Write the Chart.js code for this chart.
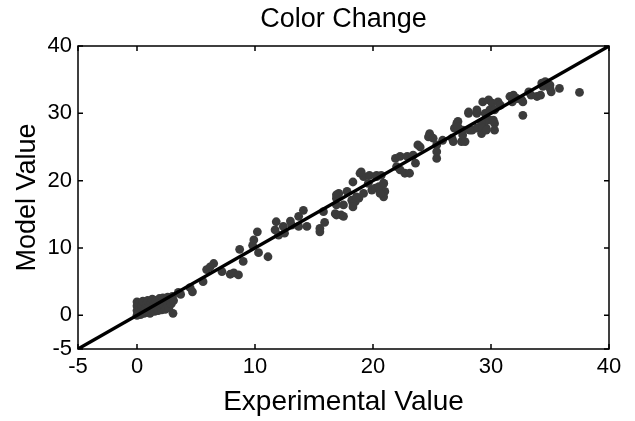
<!DOCTYPE html>
<html>
<head>
<meta charset="utf-8">
<script src="https://cdn.jsdelivr.net/npm/chart.js@4"></script>
<style>
  body { margin: 0; background: #fff; }
  #wrap { width: 635px; height: 421px; }
</style>
</head>
<body>
<div id="wrap"><canvas id="grafic"></canvas></div>
<script>
// valors llegits de la imatge (experimental, model)
const experimental = [
  0.0, 0.0, 0.0, 0.0, 0.1, 0.2, 0.2, 0.3, 0.4, 0.4, 0.5, 0.6, 0.7, 0.8, 0.9, 0.9, 1.0, 1.1, 1.2, 1.2,
  1.3, 1.4, 1.5, 1.6, 1.6, 1.7, 1.8, 1.9, 2.0, 2.1, 2.1, 2.2, 2.3, 2.4, 2.5, 2.6, 2.6, 2.7, 2.8, 2.9,
  3.0, 3.05, 3.1,
  3.5, 3.7, 4.5, 4.7, 5.6, 5.9, 6.2, 6.5, 7.2, 7.9, 8.2, 8.6, 9.0, 8.7, 9.8, 9.9, 10.2, 10.3, 11.1, 11.7,
  11.8, 12.0, 12.4, 12.5, 13.0, 13.1, 13.7, 13.7, 14.1, 14.4, 15.5, 15.5, 15.9, 15.8, 16.9, 17.3, 17.5, 16.9,
  17.1, 16.9, 17.5, 17.8, 18.2, 18.5, 18.8, 18.3, 18.9, 19.2, 19.6, 19.9, 20.2, 20.3, 20.7, 20.9, 21.0,
  19.0, 19.7, 20.3, 20.6, 20.9, 18.3, 18.6, 16.9, 16.8, 18.3, 19.2, 20.6, 20.5, 20.9,
  21.9, 22.3, 22.9, 23.4, 22.0, 22.3, 22.7, 23.1, 23.6, 23.8, 24.0, 24.8, 24.7, 25.1, 25.4, 25.4, 25.4, 25.9,
  26.7, 26.8, 27.1, 27.2, 26.9, 27.5, 27.8, 27.6, 28.1, 28.8, 28.1, 28.8, 28.4, 28.8, 29.2, 29.6, 29.9, 30.3,
  30.3, 29.5, 29.2, 29.3, 29.8, 30.1, 30.6, 30.8, 29.5, 29.9, 30.3, 30.2, 29.3, 29.6, 27.6, 28.2, 27.2,
  31.6, 31.9, 32.2, 31.8, 32.6, 32.7, 32.7, 33.2, 33.4, 33.9, 34.2, 34.3, 34.6, 34.4, 35.0, 35.0, 35.1, 35.8, 37.5
];
const model = [
  0.0, 0.7, 1.4, 2.0, 0.3, 1.1, 1.8, 0.1, 0.6, 1.5, 2.1, 0.3, 1.0, 1.7, 0.5, 2.2, 1.2, 0.3, 0.8, 1.9,
  2.4, 1.4, 0.6, 1.0, 2.2, 1.7, 0.7, 2.5, 1.2, 0.8, 1.9, 2.6, 1.4, 0.9, 2.1, 1.6, 2.7, 1.1, 2.3, 1.7,
  2.8, 0.3, 2.2,
  3.4, 3.1, 4.1, 3.5, 5.0, 6.8, 7.2, 7.7, 6.5, 6.1, 6.3, 6.0, 8.0, 9.8, 10.4, 11.2, 12.4, 9.3, 8.7, 12.7,
  13.9, 11.9, 13.2, 12.2, 14.0, 13.4, 14.7, 13.2, 15.6, 13.2, 12.4, 12.9, 13.8, 15.4, 14.9, 14.9, 14.7, 16.4,
  18.1, 17.4, 16.4, 18.4, 17.1, 16.9, 17.4, 19.8, 21.1, 20.6, 19.6, 18.6, 18.9, 20.8, 20.8, 19.6, 18.4,
  21.3, 20.8, 20.6, 18.9, 17.6, 16.6, 17.6, 17.9, 15.1, 16.1, 18.1, 18.1, 19.1, 19.6,
  23.3, 23.6, 23.6, 23.8, 22.1, 21.6, 21.1, 21.1, 22.6, 25.3, 25.0, 27.0, 26.5, 26.3, 23.3, 24.3, 25.3, 26.0,
  26.3, 25.8, 28.5, 28.8, 27.8, 25.8, 25.8, 26.8, 30.0, 30.0, 30.2, 30.5, 27.5, 27.8, 27.0, 27.8, 29.0, 28.5,
  27.5, 29.0, 28.5, 31.7, 32.0, 31.5, 31.7, 31.2, 30.0, 30.5, 30.5, 29.0, 27.8, 27.5, 27.5, 27.5, 28.0,
  32.5, 32.7, 32.2, 31.7, 32.0, 31.7, 29.7, 33.2, 32.7, 32.5, 32.7, 34.5, 34.7, 34.0, 34.2, 33.7, 33.2, 33.7, 33.1
];
// recta y = x
const rectaX = [-5, 40];
const rectaY = [-5, 40];
const tickValues = [-5, 0, 10, 20, 30, 40];
const titol = 'Color Change';

const punts = experimental.map((x, i) => ({ x: x, y: model[i] }));
const recta = rectaX.map((x, i) => ({ x: x, y: rectaY[i] }));

const fontBase = "'Liberation Sans', Arial, sans-serif";

// marc, marques cap a dins a les quatre vores, i titol centrat sobre l'area
const marcPlugin = {
  id: 'marc',
  afterDraw(chart) {
    const { ctx, chartArea: a, scales } = chart;
    ctx.save();
    ctx.strokeStyle = '#000';
    ctx.lineWidth = 1.5;
    ctx.strokeRect(a.left, a.top, a.right - a.left, a.bottom - a.top);
    const len = 5;
    ctx.beginPath();
    tickValues.forEach(v => {
      const px = scales.x.getPixelForValue(v);
      ctx.moveTo(px, a.bottom); ctx.lineTo(px, a.bottom - len);
      ctx.moveTo(px, a.top); ctx.lineTo(px, a.top + len);
      const py = scales.y.getPixelForValue(v);
      ctx.moveTo(a.left, py); ctx.lineTo(a.left + len, py);
      ctx.moveTo(a.right, py); ctx.lineTo(a.right - len, py);
    });
    ctx.stroke();

    ctx.fillStyle = '#000';
    ctx.font = '27px ' + fontBase;
    ctx.textAlign = 'center';
    ctx.textBaseline = 'alphabetic';
    ctx.fillText(titol, (a.left + a.right) / 2, 27);
    ctx.restore();
  }
};

new Chart(document.getElementById('grafic'), {
  type: 'scatter',
  data: {
    datasets: [
      {
        data: recta,
        showLine: true,
        borderColor: '#000',
        borderWidth: 3.3,
        pointRadius: 0,
        fill: false
      },
      {
        data: punts,
        backgroundColor: '#3b3b3b',
        borderWidth: 0,
        pointRadius: 4.4
      }
    ]
  },
  options: {
    responsive: true,
    maintainAspectRatio: false,
    animation: false,
    layout: { padding: { left: 0, right: 26, top: 46, bottom: 0 } },
    plugins: {
      legend: { display: false },
      tooltip: { enabled: false },
      title: { display: false }
    },
    scales: {
      x: {
        type: 'linear',
        min: -5,
        max: 40,
        grid: { display: false, drawTicks: false },
        border: { display: false },
        afterBuildTicks: s => { s.ticks = tickValues.map(v => ({ value: v })); },
        afterFit: s => { s.height = 72; },
        ticks: {
          color: '#000',
          padding: 5,
          maxRotation: 0,
          font: { family: fontBase, size: 22 }
        },
        title: {
          display: true,
          text: 'Experimental Value',
          color: '#000',
          font: { family: fontBase, size: 28 },
          padding: { top: 0, bottom: 2 }
        }
      },
      y: {
        type: 'linear',
        min: -5,
        max: 40,
        grid: { display: false, drawTicks: false },
        border: { display: false },
        afterBuildTicks: s => { s.ticks = tickValues.map(v => ({ value: v })); },
        afterFit: s => { s.width = 78; },
        ticks: {
          color: '#000',
          padding: 6,
          font: { family: fontBase, size: 22 }
        },
        title: {
          display: true,
          text: 'Model Value',
          color: '#000',
          font: { family: fontBase, size: 27 },
          padding: { top: 11, bottom: 0 }
        }
      }
    }
  },
  plugins: [marcPlugin]
});
</script>
</body>
</html>
